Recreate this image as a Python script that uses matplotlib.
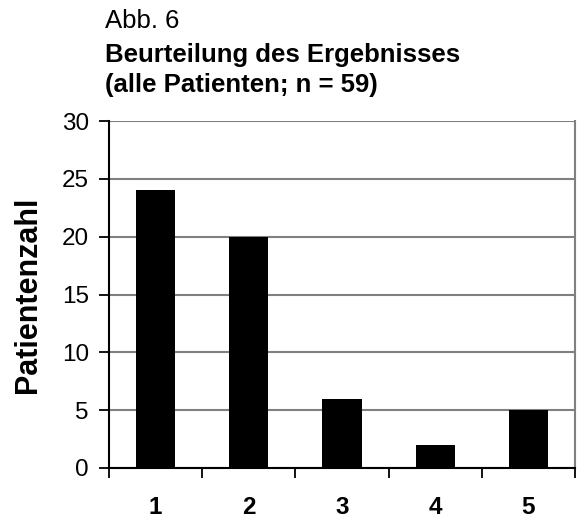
import matplotlib.pyplot as plt
from matplotlib.ticker import FixedLocator

plt.rcParams['font.family'] = ['Liberation Sans', 'DejaVu Sans']

# Daten aus der Abbildung
kategorien = ["1", "2", "3", "4", "5"]
patientenzahl = [24, 20, 6, 2, 5]
y_ticks = [0, 5, 10, 15, 20, 25, 30]

fig = plt.figure(figsize=(5.78, 5.19), dpi=100)
ax = fig.add_axes([109 / 578, 1 - 468 / 519, 466 / 578, 347 / 519])

pos = list(range(1, len(kategorien) + 1))
ax.bar(pos, patientenzahl, width=0.42, color='black', zorder=3)

ax.set_xlim(0.5, len(kategorien) + 0.5)
ax.set_ylim(0, 30)
ax.set_yticks(y_ticks)
ax.yaxis.grid(True, color='#808080', linewidth=1.5, zorder=0)
ax.set_axisbelow(True)

ax.set_xticks(pos)
ax.set_xticklabels(kategorien, fontsize=17.5, fontweight='bold')
ax.xaxis.set_minor_locator(FixedLocator([p - 0.5 for p in pos] + [pos[-1] + 0.5]))
ax.tick_params(axis='x', which='major', length=0, pad=20)
ax.tick_params(axis='x', which='minor', length=7, width=1.3, direction='out', color='black')
ax.tick_params(axis='y', length=7, width=1.3, direction='out', labelsize=17.5, pad=7.5)

for side in ['left', 'bottom']:
    ax.spines[side].set_color('black')
    ax.spines[side].set_linewidth(1.5)
ax.spines['right'].set_color('#808080')
ax.spines['right'].set_linewidth(1.5)
ax.spines['top'].set_visible(False)

ax.set_ylabel("Patientenzahl", fontsize=22, fontweight='bold')
ax.yaxis.set_label_coords(-(109 - 43) / 466, 0.5)

# Titelzeilen
fig.text(105 / 578, 1 - 28 / 519, "Abb. 6", fontsize=18.5, va='baseline')
fig.text(105 / 578, 1 - 62 / 519, "Beurteilung des Ergebnisses", fontsize=18.5,
         fontweight='bold', va='baseline')
fig.text(105 / 578, 1 - 92 / 519, "(alle Patienten; n = 59)", fontsize=18.5,
         fontweight='bold', va='baseline')

fig.savefig("out.png", dpi=100)
